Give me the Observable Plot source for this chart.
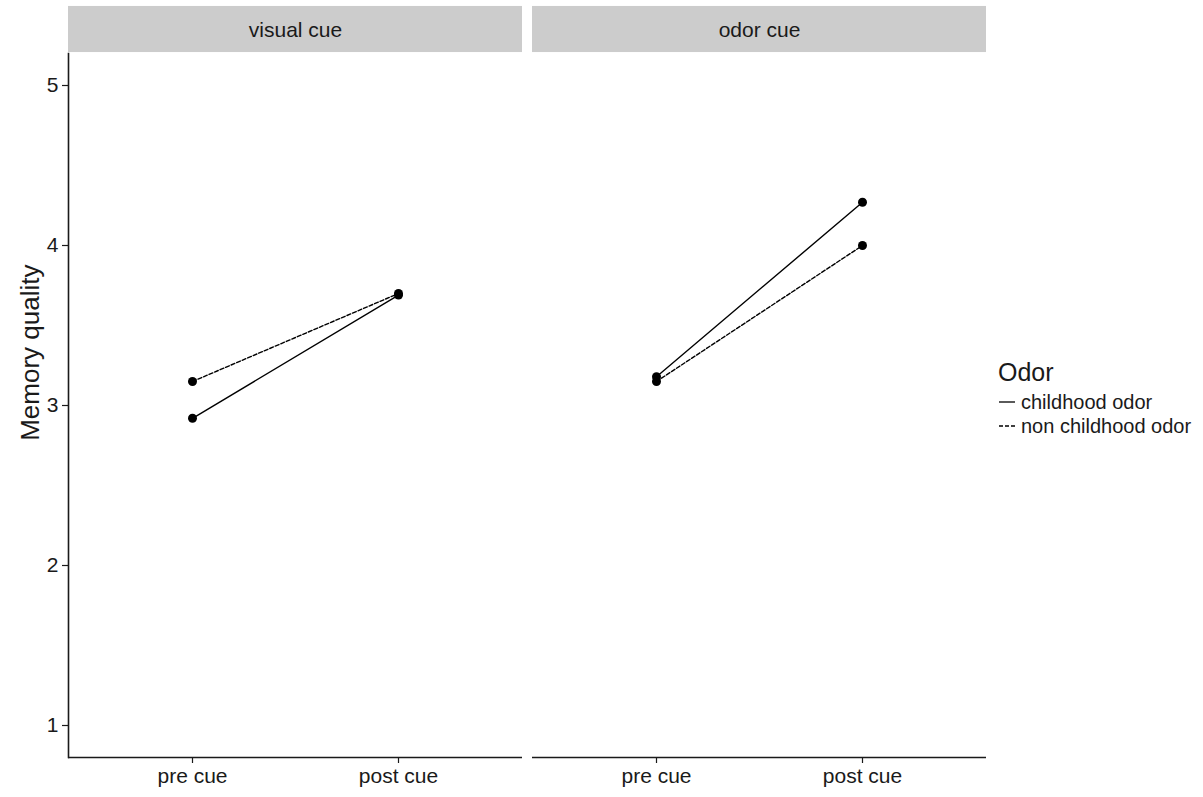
<!DOCTYPE html>
<html>
<head>
<meta charset="utf-8">
<script src="https://cdn.jsdelivr.net/npm/d3@7"></script>
<script src="https://cdn.jsdelivr.net/npm/@observablehq/plot@0.6"></script>
<style>
  html, body { margin: 0; padding: 0; background: #ffffff; }
  #wrap { position: relative; width: 1203px; height: 797px; font-family: "Liberation Sans Narrow", "Liberation Sans", Arial, sans-serif; color: #1a1a1a; }
  #legend { position: absolute; left: 998px; top: 357px; }
  #legend .title { font-size: 25px; line-height: 30px; margin-bottom: 3px; }
  #legend .item { font-size: 20px; line-height: 24px; display: flex; align-items: center; }
  #legend svg { margin-right: 5px; }
</style>
</head>
<body>
<div id="wrap">
  <div id="chart"></div>
  <div id="legend"></div>
</div>
<script>
const facets = ["visual cue", "odor cue"];
const phases = ["pre cue", "post cue"];
const odors = ["childhood odor", "non childhood odor"];
const visualChildhood = [2.92, 3.69];
const visualNonChildhood = [3.15, 3.70];
const odorChildhood = [3.18, 4.27];
const odorNonChildhood = [3.15, 4.00];
const yTicks = [1, 2, 3, 4, 5];
const dashes = { "childhood odor": null, "non childhood odor": "4,2" };

const series = [
  { cue: "visual cue", odor: "childhood odor", values: visualChildhood },
  { cue: "visual cue", odor: "non childhood odor", values: visualNonChildhood },
  { cue: "odor cue", odor: "childhood odor", values: odorChildhood },
  { cue: "odor cue", odor: "non childhood odor", values: odorNonChildhood }
];
const rows = series.flatMap(s => phases.map((p, i) => ({ cue: s.cue, odor: s.odor, phase: p, value: s.values[i] })));

const font = "'Liberation Sans Narrow', 'Liberation Sans', Arial, sans-serif";
const ink = "#1a1a1a";

const chart = Plot.plot({
  width: 1203,
  height: 797,
  marginLeft: 68,
  marginRight: 216,
  marginTop: 53,
  marginBottom: 40,
  style: { fontFamily: font, fontSize: "21px", color: ink, background: "#ffffff" },
  fx: { domain: facets, paddingInner: 0.0215, paddingOuter: 0, axis: null, label: null },
  x: { domain: phases, padding: 0.6, axis: null, label: null },
  y: { domain: [0.8, 5.2], axis: null, label: null },
  marks: [
    Plot.rect(facets, { fx: d => d, y1: 5.206, y2: 5.494, fill: "#cccccc" }),
    Plot.text(facets, { fx: d => d, y: 5.345, text: d => d, fontSize: 21, fill: ink }),
    Plot.ruleY([0.8], { stroke: ink, strokeWidth: 1.6 }),
    Plot.frame({ anchor: "left", facetAnchor: "left", stroke: ink, strokeWidth: 1.6 }),
    Plot.axisX({ tickSize: 6, tickPadding: 5, fontSize: 21, stroke: ink, fill: ink, strokeWidth: 1.2 }),
    Plot.axisY({ ticks: yTicks, tickFormat: d3.format("d"), tickSize: 6, tickPadding: 4, fontSize: 21, stroke: ink, fill: ink, strokeWidth: 1.2 }),
    Plot.text(["Memory quality"], { fx: ["visual cue"], y: [3.33], text: d => d, frameAnchor: "left", textAnchor: "middle", dx: -38, rotate: -90, fontSize: 26, fill: ink }),
    ...odors.map(o => Plot.line(rows.filter(r => r.odor === o), {
      fx: "cue", x: "phase", y: "value", stroke: "#000000", strokeWidth: 1.4,
      strokeDasharray: dashes[o]
    })),
    Plot.dot(rows, { fx: "cue", x: "phase", y: "value", r: 4.5, fill: "#000000", stroke: "none" })
  ]
});
document.getElementById("chart").appendChild(chart);

const legend = d3.select("#legend");
legend.append("div").attr("class", "title").text("Odor");
odors.forEach(o => {
  const item = legend.append("div").attr("class", "item");
  const s = item.append("svg").attr("width", 18).attr("height", 12);
  s.append("line").attr("x1", 1).attr("x2", 17).attr("y1", 6).attr("y2", 6)
    .attr("stroke", "#000").attr("stroke-width", 1.3)
    .attr("stroke-dasharray", dashes[o]);
  item.append("span").text(o);
});
</script>
</body>
</html>
